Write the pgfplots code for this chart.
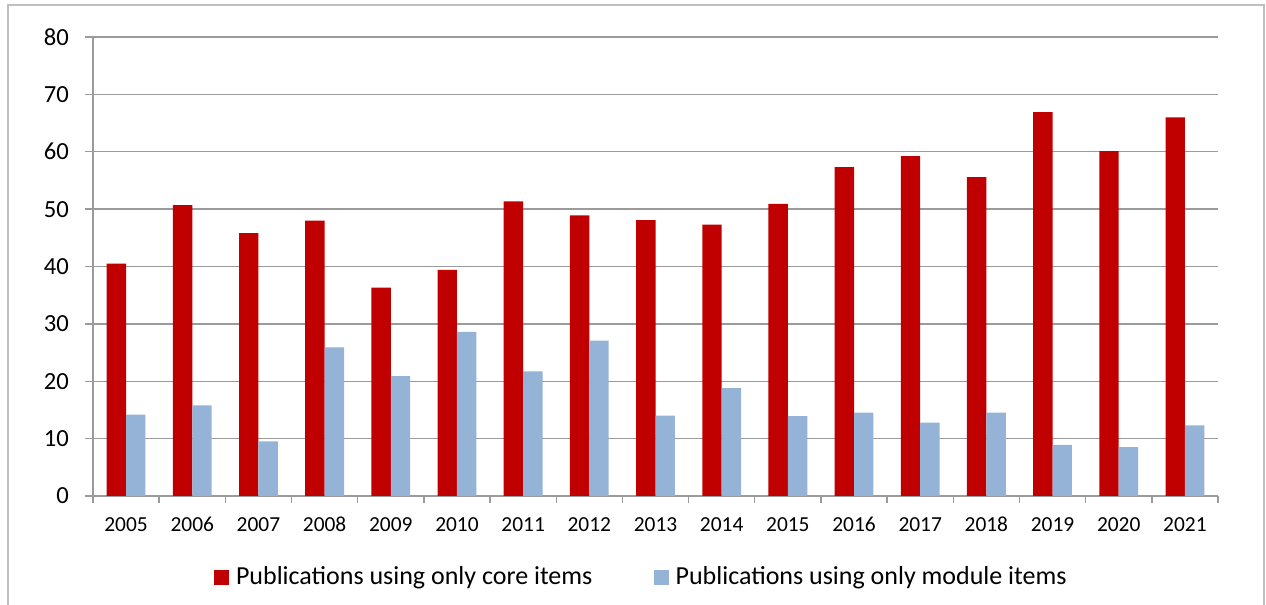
\documentclass[border=0pt]{standalone}
\usepackage{fontspec}
\setmainfont{Carlito}
\usepackage{pgfplots}
\pgfplotsset{compat=1.18}
\definecolor{corered}{RGB}{192,0,0}
\definecolor{modblue}{RGB}{149,179,215}
\definecolor{gridgray}{RGB}{155,155,155}
\definecolor{framegray}{RGB}{191,191,191}
\begin{document}
\begin{tikzpicture}
\path[use as bounding box] (-46.5pt,-54.5pt) rectangle (586.5pt,248pt);
\draw[framegray, line width=1pt] (-42.5pt,-60pt) -- (-42.5pt,245.5pt) -- (585.5pt,245.5pt) -- (585.5pt,-60pt);
\begin{axis}[
  at={(0,0)}, anchor=south west,
  scale only axis, width=562.5pt, height=229.5pt,
  ybar=0pt, bar width=9.7pt,
  xmin=-0.5, xmax=16.5, ymin=0, ymax=80,
  ytick={0,10,...,80},
  xtick={0,...,16},
  xticklabels={2005,2006,2007,2008,2009,2010,2011,2012,2013,2014,2015,2016,2017,2018,2019,2020,2021},
  minor xtick={-0.5,0.5,...,16.5},
  tick align=outside,
  major tick length=4pt,
  minor tick length=3.5pt,
  xtick style={draw=none},
  minor x tick style={draw=gridgray, line width=0.7pt},
  ytick style={draw=gridgray, line width=0.7pt},
  axis x line*=bottom, axis y line*=left,
  axis line style={-, draw=gridgray, line width=0.7pt},
  ymajorgrids, major grid style={draw=gridgray, line width=0.7pt},
  /pgf/number format/assume math mode=true,
  yticklabel style={font=\fontsize{12.3}{14}\selectfont, xshift=-4.5pt},
  xticklabel style={font=\fontsize{10.7}{12}\selectfont, anchor=base, yshift=-14pt},
  legend style={at={(0.4883,-0.1765)}, anchor=center, draw=none, fill=none,
    legend columns=2, font=\fontsize{13}{15}\selectfont,
    /tikz/every odd column/.append style={column sep=1.5pt},
    /tikz/every even column/.append style={column sep=28.6pt}},
]
\addplot[fill=corered, draw=none, legend image code/.code={\fill[corered] (0pt,-3.75pt) rectangle (7.5pt,3.75pt);}] coordinates {
(0,40.5) (1,50.7) (2,45.8) (3,48.0) (4,36.3) (5,39.4) (6,51.35) (7,48.9) (8,48.1) (9,47.3) (10,50.9) (11,57.3) (12,59.25) (13,55.6) (14,66.9) (15,60.1) (16,66.0)};
\addlegendentry{Publications using only core items}
\addplot[fill=modblue, draw=none, legend image code/.code={\fill[modblue] (0pt,-3.75pt) rectangle (7.5pt,3.75pt);}] coordinates {
(0,14.2) (1,15.8) (2,9.5) (3,25.9) (4,20.9) (5,28.6) (6,21.7) (7,27.1) (8,14.0) (9,18.8) (10,13.9) (11,14.55) (12,12.8) (13,14.55) (14,8.9) (15,8.5) (16,12.3)};
\addlegendentry{Publications using only module items}
\end{axis}
\end{tikzpicture}
\end{document}
